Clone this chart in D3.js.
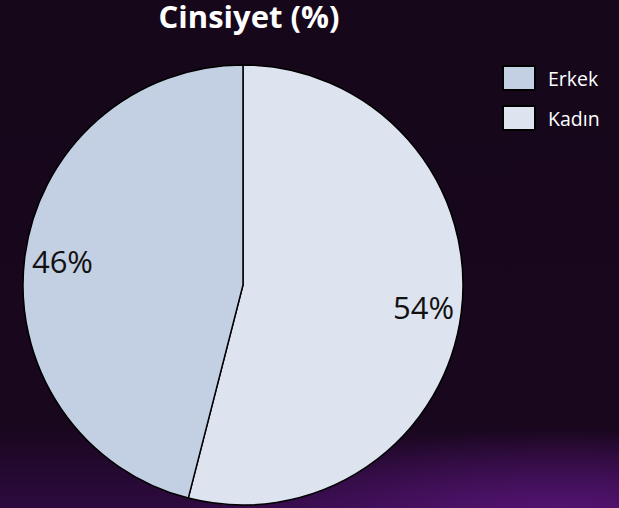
<!DOCTYPE html>
<meta charset='utf-8'>
<style>
body { margin: 0; background: #16071a; }
text { font-family: 'Open Sans', 'Noto Sans', sans-serif; }
</style>
<div id='chart'></div>
<script src='https://d3js.org/d3.v7.min.js'></script>
<script>
var labels = ['Kadın', 'Erkek'];
var values = [54, 46];
var legendOrder = ['Erkek', 'Kadın'];
var colors = ['#dde4ef', '#c3cfe2'];

var width = 619, height = 508;
var cx = 243, cy = 285, radius = 220;

var svg = d3.select('#chart')
  .append('svg')
    .attr('width', width)
    .attr('height', height);

// background with purple glow at the bottom
var defs = svg.append('defs');
var lin = defs.append('linearGradient')
  .attr('id', 'bg').attr('x1', 0).attr('y1', 0).attr('x2', 0).attr('y2', 1);
lin.append('stop').attr('offset', '0%').attr('stop-color', '#16071a');
lin.append('stop').attr('offset', '84%').attr('stop-color', '#19071e');
lin.append('stop').attr('offset', '100%').attr('stop-color', '#2e0a40');
var rad = defs.append('radialGradient')
  .attr('id', 'glow')
  .attr('gradientUnits', 'userSpaceOnUse')
  .attr('cx', 0).attr('cy', 0).attr('r', 1)
  .attr('gradientTransform', 'translate(560,520) scale(380,90)');
rad.append('stop').attr('offset', '0%').attr('stop-color', '#5c167c').attr('stop-opacity', 0.9);
rad.append('stop').attr('offset', '50%').attr('stop-color', '#5c167c').attr('stop-opacity', 0.45);
rad.append('stop').attr('offset', '100%').attr('stop-color', '#5c167c').attr('stop-opacity', 0);

svg.append('rect').attr('width', width).attr('height', height).attr('fill', 'url(#bg)');
svg.append('rect').attr('width', width).attr('height', height).attr('fill', 'url(#glow)');

svg.append('text')
  .attr('x', 249)
  .attr('y', 28)
  .attr('text-anchor', 'middle')
  .attr('font-size', 31)
  .attr('font-weight', 'bold')
  .attr('fill', '#ffffff')
  .text('Cinsiyet (%)');

var color = d3.scaleOrdinal().domain(labels).range(colors);

var pie = d3.pie().sort(null).value(function(d) { return d.value; });
var data = labels.map(function(l, i) { return {label: l, value: values[i]}; });
var arc = d3.arc().innerRadius(0).outerRadius(radius);
var labelArc = d3.arc().innerRadius(182).outerRadius(182);

var g = svg.append('g').attr('transform', 'translate(' + cx + ',' + cy + ')');

g.selectAll('path')
  .data(pie(data))
  .enter()
  .append('path')
    .attr('d', arc)
    .attr('fill', function(d) { return color(d.data.label); })
    .attr('stroke', '#000')
    .attr('stroke-width', 1.5);

g.selectAll('.lbl')
  .data(pie(data))
  .enter()
  .append('text')
    .attr('class', 'lbl')
    .attr('transform', function(d) { return 'translate(' + labelArc.centroid(d) + ')'; })
    .attr('text-anchor', 'middle')
    .attr('dy', '0.36em')
    .attr('font-size', 31)
    .attr('fill', '#111')
    .text(function(d) { return d.data.value + '%'; });

var legend = svg.selectAll('.legend')
  .data(legendOrder)
  .enter()
  .append('g')
  .attr('class', 'legend')
  .attr('transform', function(d, i) { return 'translate(503,' + (66 + i * 40) + ')'; });

legend.append('rect')
  .attr('width', 32)
  .attr('height', 24)
  .attr('fill', function(d) { return color(d); })
  .attr('stroke', '#000')
  .attr('stroke-width', 2);

legend.append('text')
  .attr('x', 45)
  .attr('y', 20)
  .attr('font-size', 19.5)
  .attr('fill', '#ffffff')
  .text(function(d) { return d; });
</script>
